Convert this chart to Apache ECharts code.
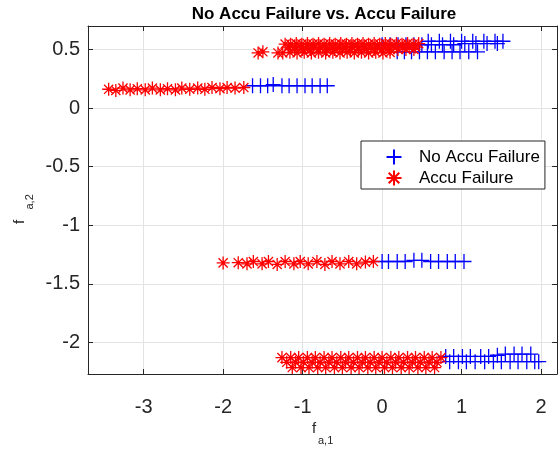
<!DOCTYPE html>
<html><head><meta charset="utf-8">
<script src="https://cdn.jsdelivr.net/npm/echarts@6/dist/echarts.min.js"></script>
<style>html,body{margin:0;padding:0;background:#fff}#c{width:560px;height:451px}</style>
</head><body><div id="c"></div>
<script>
const titleText = 'No Accu Failure vs. Accu Failure';
const seriesNames = ['No Accu Failure', 'Accu Failure'];
const xRange = [-3.7, 2.2];
const yRange = [-2.27, 0.7];

// No Accu Failure (blue +)
const noFailureTop = [
  [0.00,0.54],[0.10,0.54],[0.20,0.54],[0.30,0.54],[0.40,0.54],[0.50,0.54],[0.62,0.54],[0.76,0.54],[0.90,0.54],[1.04,0.55],[1.18,0.55],[1.32,0.55],[1.45,0.55],
  [0.58,0.57],[0.72,0.57],[0.86,0.57],[1.00,0.57],[1.14,0.57],[1.28,0.57],[1.42,0.57],[1.52,0.57],
  [0.19,0.48],[0.28,0.48],[0.37,0.48],[0.47,0.48],[0.57,0.48],[0.67,0.48],[0.78,0.48],[0.88,0.48],[0.98,0.48],[1.09,0.48],[1.20,0.48]
];
const noFailureSecond = [
  [-1.63,0.19],[-1.53,0.19],[-1.44,0.19],[-1.37,0.20],[-1.26,0.19],[-1.17,0.19],[-1.07,0.19],[-0.97,0.19],[-0.88,0.19],[-0.78,0.19],[-0.69,0.19]
];
const noFailureThird = [
  [0.00,-1.31],[0.08,-1.31],[0.19,-1.31],[0.29,-1.31],[0.40,-1.30],[0.50,-1.30],[0.61,-1.31],[0.71,-1.31],[0.82,-1.31],[0.92,-1.31],[1.03,-1.31]
];
const noFailureBottom = [
  [0.80,-2.12],[0.90,-2.12],[1.01,-2.12],[1.11,-2.12],[1.24,-2.12],[1.34,-2.12],[1.45,-2.11],[1.55,-2.10],[1.66,-2.10],[1.76,-2.10],[1.87,-2.10],
  [0.85,-2.165],[0.96,-2.165],[1.06,-2.165],[1.17,-2.165],[1.29,-2.165],[1.40,-2.165],[1.50,-2.165],[1.61,-2.165],[1.71,-2.165],[1.82,-2.165],[1.92,-2.165],[1.97,-2.165]
];

// Accu Failure (red *)
const failureTop = [
  [-1.56,0.47],[-1.50,0.48],[-1.31,0.47],
  [-1.25,0.47],[-1.16,0.475],[-1.07,0.47],[-0.98,0.475],[-0.89,0.47],[-0.80,0.475],[-0.71,0.47],[-0.62,0.475],[-0.53,0.47],[-0.44,0.475],[-0.35,0.47],[-0.26,0.475],[-0.17,0.47],[-0.08,0.475],[0.01,0.47],[0.10,0.475],
  [-1.22,0.545],[-1.15,0.545],[-1.08,0.55],[-1.01,0.545],[-0.94,0.55],[-0.87,0.545],[-0.80,0.55],[-0.73,0.545],[-0.66,0.55],[-0.59,0.545],[-0.52,0.55],[-0.45,0.545],[-0.38,0.55],[-0.31,0.545],[-0.24,0.55],[-0.17,0.545],[-0.10,0.55],[-0.03,0.545],[0.04,0.55],[0.11,0.545],[0.18,0.55],[0.25,0.545],[0.32,0.55],[0.39,0.545],[0.46,0.55],
  [-1.18,0.52],[-1.10,0.52],[-1.02,0.52],[-0.94,0.52],[-0.86,0.52],[-0.78,0.52],[-0.70,0.52],[-0.62,0.52],[-0.54,0.52],[-0.46,0.52],[-0.38,0.52],[-0.30,0.52],[-0.22,0.52],[-0.14,0.52],[-0.06,0.52],[0.02,0.52],[0.10,0.52],[0.18,0.52],[0.26,0.52],[0.34,0.52],[0.42,0.52],
  [-1.10,0.50],[-1.00,0.50],[-0.90,0.50],[-0.80,0.50],[-0.70,0.50],[-0.60,0.50],[-0.50,0.50],[-0.40,0.50],[-0.30,0.50],[-0.20,0.50],[-0.10,0.50],[0.00,0.50],[0.10,0.50],[0.20,0.50],[0.30,0.50],[0.40,0.50]
];
const failureSecond = [
  [-3.44,0.16],[-3.35,0.15],[-3.26,0.17],[-3.17,0.155],[-3.08,0.165],[-2.98,0.155],[-2.89,0.17],[-2.79,0.155],[-2.70,0.165],[-2.60,0.155],
  [-2.52,0.17],[-2.42,0.16],[-2.32,0.17],[-2.23,0.16],[-2.14,0.175],[-2.04,0.165],[-1.95,0.175],[-1.85,0.17],[-1.74,0.175]
];
const failureThird = [
  [-2.00,-1.322],[-1.81,-1.32],[-1.70,-1.33],[-1.62,-1.31],[-1.51,-1.33],[-1.43,-1.31],[-1.32,-1.335],[-1.22,-1.31],[-1.11,-1.33],[-1.03,-1.31],
  [-0.93,-1.33],[-0.82,-1.31],[-0.72,-1.335],[-0.63,-1.31],[-0.53,-1.33],[-0.42,-1.31],[-0.32,-1.33],[-0.21,-1.315],[-0.11,-1.31]
];
const failureBottom = [
  [-1.26,-2.13],[-1.15,-2.13],[-1.05,-2.13],[-0.94,-2.13],[-0.84,-2.13],[-0.73,-2.13],[-0.63,-2.13],[-0.52,-2.13],[-0.42,-2.13],[-0.31,-2.13],[-0.21,-2.13],[-0.10,-2.13],[0.00,-2.13],[0.11,-2.13],[0.21,-2.13],[0.32,-2.13],[0.42,-2.13],[0.53,-2.13],[0.63,-2.13],[0.74,-2.13],
  [-1.20,-2.17],[-1.09,-2.17],[-0.99,-2.17],[-0.88,-2.17],[-0.78,-2.17],[-0.67,-2.17],[-0.57,-2.17],[-0.46,-2.17],[-0.36,-2.17],[-0.25,-2.17],[-0.15,-2.17],[-0.04,-2.17],[0.06,-2.17],[0.17,-2.17],[0.27,-2.17],[0.38,-2.17],[0.48,-2.17],[0.59,-2.17],[0.69,-2.17],
  [-1.13,-2.215],[-1.02,-2.215],[-0.92,-2.215],[-0.81,-2.215],[-0.71,-2.215],[-0.60,-2.215],[-0.50,-2.215],[-0.39,-2.215],[-0.29,-2.215],[-0.18,-2.215],[-0.08,-2.215],[0.03,-2.215],[0.13,-2.215],[0.24,-2.215],[0.34,-2.215],[0.45,-2.215],[0.55,-2.215],[0.66,-2.215]
];

const FONT = '"Liberation Sans", Arial, Helvetica, sans-serif';
const PLUS = 'path://M0,-7.5L0,7.5M-7.5,0L7.5,0';
const STAR = 'path://M0,-6L0,6M-6,0L6,0M-4.24,-4.24L4.24,4.24M-4.24,4.24L4.24,-4.24';
const AX = '#262626';

const chart = echarts.init(document.getElementById('c'), null, {renderer: 'canvas'});

const baseX = {
  type: 'value', min: xRange[0], max: xRange[1], splitNumber: 5,
  axisLine: {show: true, onZero: false, lineStyle: {color: AX, width: 1}},
  axisTick: {show: true, inside: true, length: 5, lineStyle: {color: AX}},
};
const baseY = {
  type: 'value', min: yRange[0], max: yRange[1], splitNumber: 5,
  axisLine: {show: true, onZero: false, lineStyle: {color: AX, width: 1}},
  axisTick: {show: true, inside: true, length: 5, lineStyle: {color: AX}},
};

chart.setOption({
  animation: false,
  backgroundColor: '#fff',
  title: {
    text: titleText, left: 319, top: 1, textAlign: 'center',
    textStyle: {fontFamily: FONT, fontSize: 17, fontWeight: 'bold', color: '#000'}
  },
  grid: {left: 88, top: 26, right: 3, bottom: 77, containLabel: false},
  xAxis: [
    Object.assign({}, baseX, {
      position: 'bottom',
      axisLabel: {fontFamily: FONT, fontSize: 20, color: AX, margin: 23, showMinLabel: false, showMaxLabel: false},
      splitLine: {show: true, lineStyle: {color: '#e3e3e3', width: 1}}
    }),
    Object.assign({}, baseX, {
      position: 'top', axisLabel: {show: false}, splitLine: {show: false}
    })
  ],
  yAxis: [
    Object.assign({}, baseY, {
      position: 'left',
      axisLabel: {fontFamily: FONT, fontSize: 20, color: AX, margin: 8, showMinLabel: false, showMaxLabel: false},
      splitLine: {show: true, lineStyle: {color: '#e3e3e3', width: 1}}
    }),
    Object.assign({}, baseY, {
      position: 'right', axisLabel: {show: false}, splitLine: {show: false}
    })
  ],
  legend: {
    orient: 'vertical', left: 361, top: 141,
    padding: [6, 5, 1, 23], itemWidth: 40, itemHeight: 15, itemGap: 1,
    backgroundColor: '#fff', borderColor: AX, borderWidth: 1, borderRadius: 0,
    textStyle: {fontFamily: FONT, fontSize: 17, color: '#000'},
    data: [{name: seriesNames[0], icon: PLUS}, {name: seriesNames[1], icon: STAR}]
  },
  graphic: [
    {type: 'text', x: 312, y: 421, style: {text: 'f', font: '15px ' + FONT, fill: AX, textAlign: 'left', textVerticalAlign: 'top'}},
    {type: 'text', x: 318, y: 435, style: {text: 'a,1', font: '11px ' + FONT, fill: AX, textAlign: 'left', textVerticalAlign: 'top'}},
    {type: 'text', x: 12, y: 224, rotation: Math.PI / 2, style: {text: 'f', font: '15px ' + FONT, fill: AX, textAlign: 'left', textVerticalAlign: 'top'}},
    {type: 'text', x: 24, y: 209.5, rotation: Math.PI / 2, style: {text: 'a,2', font: '11px ' + FONT, fill: AX, textAlign: 'left', textVerticalAlign: 'top'}}
  ],
  series: [
    {
      name: seriesNames[0], type: 'scatter', xAxisIndex: 0, yAxisIndex: 0,
      symbol: PLUS, symbolSize: 15,
      itemStyle: {color: 'none', borderColor: '#0000ff', borderWidth: 1.3, opacity: 1},
      data: [].concat(noFailureTop, noFailureSecond, noFailureThird, noFailureBottom)
    },
    {
      name: seriesNames[1], type: 'scatter', xAxisIndex: 0, yAxisIndex: 0,
      symbol: STAR, symbolSize: 13,
      itemStyle: {color: 'none', borderColor: '#ff0000', borderWidth: 1.3, opacity: 1},
      data: [].concat(failureTop, failureSecond, failureThird, failureBottom)
    }
  ]
});
</script></body></html>
